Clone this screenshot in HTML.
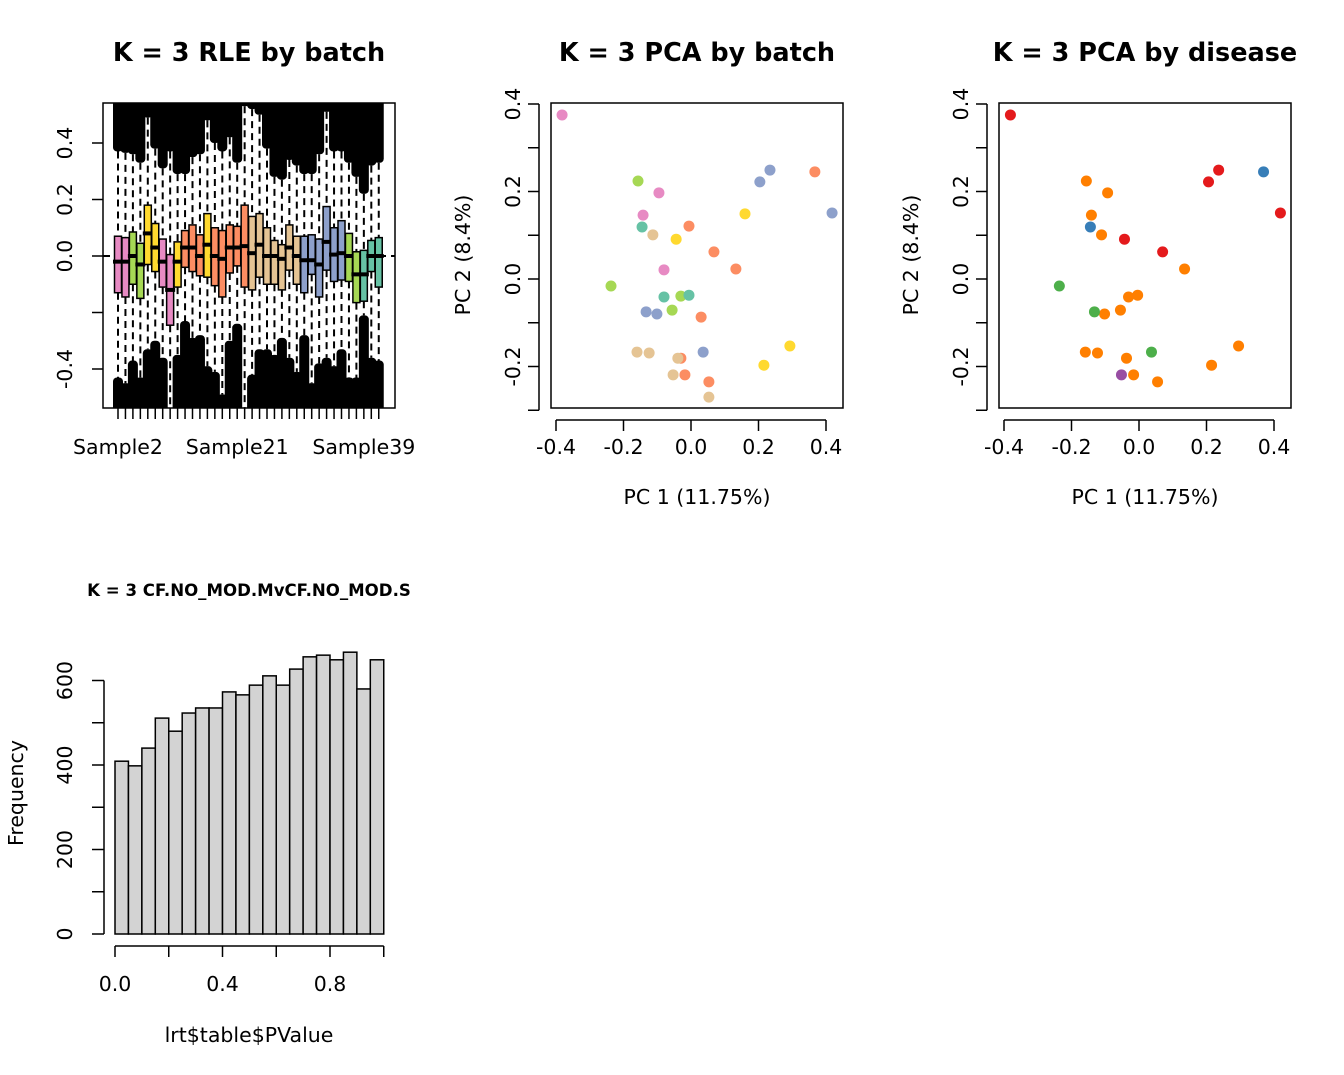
<!DOCTYPE html>
<html><head><meta charset="utf-8"><style>
html,body{margin:0;padding:0;background:#fff}
svg{display:block;font-family:"DejaVu Sans","Liberation Sans",sans-serif}
</style></head><body>
<svg id="c" width="1344" height="1075" viewBox="0 0 1344 1075">
<text x="249" y="61" text-anchor="middle" font-size="25.5" font-weight="bold">K = 3 RLE by batch</text>
<text x="697" y="61" text-anchor="middle" font-size="25.5" font-weight="bold">K = 3 PCA by batch</text>
<text x="1145" y="61" text-anchor="middle" font-size="25.5" font-weight="bold">K = 3 PCA by disease</text>
<text x="249" y="596" text-anchor="middle" font-size="16.6" font-weight="bold">K = 3 CF.NO_MOD.MvCF.NO_MOD.S</text>
<g id="g1"></g>
<g id="g2"></g>
<g id="g3"></g>
<g id="g4"></g>
</svg>
<script>
// ---- RLE data ----
const rleQ3=[.07,.065,.085,.045,.18,.115,.06,.005,.05,.09,.11,.075,.15,.1,.09,.11,.105,.18,.14,.15,.1,.055,.04,.11,.07,.07,.075,.06,.175,.1,.125,.08,.015,.02,.055,.065];
const rleQ1=[-.13,-.145,-.1,-.15,-.03,-.055,-.11,-.245,-.11,-.04,-.055,-.07,-.075,-.105,-.145,-.06,-.035,-.11,-.12,-.075,-.1,-.1,-.12,-.05,-.1,-.13,-.065,-.145,-.05,-.09,-.085,-.09,-.165,-.16,-.055,-.11];
const rleMed=[-.02,-.02,0,-.03,.08,.03,-.02,-.12,-.02,.03,.03,0,.04,0,-.01,.03,.03,.035,.01,.04,0,0,-.01,.03,0,-.015,-.015,-.03,.05,.005,.01,0,-.065,-.065,0,0];
const rleUpWhisk=[.37,.365,.36,.33,.49,.38,.31,.37,.29,.29,.35,.36,.48,.4,.37,.42,.33,.53,.52,.5,.38,.28,.27,.34,.32,.29,.29,.36,.51,.37,.37,.33,.28,.22,.32,.33];
const rleLoWhisk=[-.43,-.45,-.37,-.43,-.33,-.3,-.36,-.6,-.35,-.23,-.29,-.28,-.39,-.41,-.49,-.3,-.24,-.6,-.42,-.33,-.33,-.35,-.29,-.36,-.41,-.28,-.45,-.38,-.36,-.39,-.33,-.43,-.43,-.21,-.36,-.37];
const rleBatch=[0,0,1,1,2,2,0,0,2,3,3,3,2,3,3,3,3,3,4,4,4,4,4,4,4,5,5,5,5,5,5,1,1,6,6,6];
const rleTicks=[-0.4,-0.2,0,0.2,0.4];
const rleTickLabels=["-0.4","","0.0","0.2","0.4"];
const rleXLabels=["Sample2","Sample21","Sample39"];
const rleXLabelIdx=[0,16,33];
const batchColors=["#E78AC3","#A6D854","#FFD92F","#FC8D62","#E5C494","#8DA0CB","#66C2A5"];
// ---- PCA by batch ----
const pc1=[-.382,-.157,-.095,-.142,-.145,-.113,-.044,-.006,.068,-.080,.133,.160,.204,.234,.367,.418,-.237,-.080,-.030,-.006,-.056,-.133,-.101,.030,-.160,-.124,-.030,-.039,.036,.293,.216,-.053,-.018,.053,.053];
const pc2=[.375,.224,.197,.146,.119,.101,.091,.121,.062,.021,.023,.149,.222,.249,.245,.151,-.016,-.041,-.039,-.037,-.071,-.075,-.080,-.087,-.167,-.169,-.181,-.181,-.167,-.153,-.197,-.219,-.219,-.235,-.270];
const pcBatch=[0,1,0,0,6,4,2,3,3,0,3,2,5,5,3,5,1,6,1,6,1,5,5,3,4,4,3,4,5,2,2,4,3,3,4];
// ---- PCA by disease ----
const dx=[-.381,.206,.236,.419,.070,-.043,.369,-.144,-.156,-.093,-.141,-.111,.135,-.031,-.004,-.055,-.102,-.159,-.123,-.037,.295,.215,-.016,.055,-.236,-.132,.037,-.052];
const dy=[.375,.222,.249,.151,.062,.091,.245,.119,.224,.197,.146,.101,.023,-.041,-.037,-.071,-.080,-.167,-.169,-.181,-.153,-.197,-.219,-.235,-.016,-.075,-.167,-.219];
const dGroup=[0,0,0,0,0,0,1,1,4,4,4,4,4,4,4,4,4,4,4,4,4,4,4,4,2,2,2,3];
const diseaseColors=["#E41A1C","#377EB8","#4DAF4A","#984EA3","#FF7F00"];
const pcaXTicks=[-0.4,-0.2,0,0.2,0.4];
const pcaXTickLabels=["-0.4","-0.2","0.0","0.2","0.4"];
const pcaYTicks=[-0.3,-0.2,-0.1,0,0.1,0.2,0.3,0.4];
const pcaYTickLabels=["","-0.2","","0.0","","0.2","","0.4"];
// ---- Histogram ----
const histCounts=[409,398,440,511,480,523,535,535,573,566,589,611,589,627,656,660,649,667,580,649];
const histBinWidth=0.05;
const histYTicks=[0,100,200,300,400,500,600];
const histYLabels=["0","","200","","400","","600"];
const histXTicks=[0,0.2,0.4,0.6,0.8,1.0];
const histXLabels=["0.0","","0.4","","0.8",""];

const NS="http://www.w3.org/2000/svg";
function mk(p,tag,a,txt){const e=document.createElementNS(NS,tag);for(const k in a)e.setAttribute(k,a[k]);if(txt!==undefined)e.textContent=txt;p.appendChild(e);return e;}
const FS=20.5;

// ---- RLE ----
(function(){
const g=document.getElementById('g1');
const L=103,R=395,T=103,B=408;
const ys=v=>256-v*282.5;
const xs=i=>118+i*7.45;
const plotClip=mk(g,'clipPath',{id:'cp1'});mk(plotClip,'rect',{x:L,y:T,width:R-L,height:B-T});
const inner=mk(g,'g',{'clip-path':'url(#cp1)'});


mk(inner,'line',{x1:L,x2:R,y1:ys(0),y2:ys(0),stroke:'#000','stroke-width':2,'stroke-dasharray':'7,5'});
rleMed.forEach((m,i)=>{
 const x=xs(i);
 const top=mk(inner,'rect',{x:x-5,y:T-5,width:10,height:ys(rleUpWhisk[i])-T+5,fill:'#000',rx:4});
 
 
 const bot=mk(inner,'rect',{x:x-5,y:ys(rleLoWhisk[i]),width:10,height:B-ys(rleLoWhisk[i])+5,fill:'#000',rx:4});
 
 
});
rleMed.forEach((m,i)=>{
 const x=xs(i);
 mk(inner,'line',{x1:x,x2:x,y1:ys(rleUpWhisk[i]),y2:ys(rleQ3[i]),stroke:'#000','stroke-width':2,'stroke-dasharray':'7,5'});
 mk(inner,'line',{x1:x,x2:x,y1:ys(rleQ1[i]),y2:ys(rleLoWhisk[i]),stroke:'#000','stroke-width':2,'stroke-dasharray':'7,5'});
 const b=mk(inner,'rect',{x:x-3.5,y:ys(rleQ3[i]),width:7,height:ys(rleQ1[i])-ys(rleQ3[i]),fill:batchColors[rleBatch[i]],stroke:'#000','stroke-width':1.5});
 
 
 mk(inner,'line',{x1:x-5,x2:x+5,y1:ys(m),y2:ys(m),stroke:'#000','stroke-width':4});
});
mk(g,'rect',{x:L,y:T,width:R-L,height:B-T,fill:'none',stroke:'#000','stroke-width':1.5});
rleTicks.forEach((t,i)=>{const y=ys(t);mk(g,'line',{x1:L-11,x2:L,y1:y,y2:y,stroke:'#000','stroke-width':1.5});
 if(rleTickLabels[i]){const tx=mk(g,'text',{x:72,y:y,'font-size':FS,'text-anchor':'middle',transform:`rotate(-90 72 ${y})`},rleTickLabels[i]);
 }});
rleMed.forEach((m,i)=>mk(g,'line',{x1:xs(i),x2:xs(i),y1:B,y2:B+11,stroke:'#000','stroke-width':1.5}));
rleXLabels.forEach((s,k)=>{const tx=mk(g,'text',{x:xs(rleXLabelIdx[k]),y:454,'font-size':FS,'text-anchor':'middle'},s);
 });
})();

// ---- PCA ----
function pca(gid,x0,xsArr,ysArr,cols,pal,name){
const g=document.getElementById(gid);
const L=x0,R=x0+292,T=103,B=408;
const zeroX=x0+140;
const sx=v=>zeroX+v*337.5, sy=v=>279-v*437.5;
mk(g,'rect',{x:L,y:T,width:R-L,height:B-T,fill:'none',stroke:'#000','stroke-width':1.5});
mk(g,'line',{x1:sx(-0.4),x2:sx(0.4),y1:B+12,y2:B+12,stroke:'#000','stroke-width':1.5});
mk(g,'line',{x1:L-12,x2:L-12,y1:sy(-0.3),y2:sy(0.4),stroke:'#000','stroke-width':1.5});
pcaXTicks.forEach((t,i)=>{
 mk(g,'line',{x1:sx(t),x2:sx(t),y1:B+12,y2:B+23,stroke:'#000','stroke-width':1.5});
 const a=mk(g,'text',{x:sx(t),y:454,'font-size':FS,'text-anchor':'middle'},pcaXTickLabels[i]);
 
});
pcaYTicks.forEach((t,i)=>{
 mk(g,'line',{x1:L-23,x2:L-12,y1:sy(t),y2:sy(t),stroke:'#000','stroke-width':1.5});
 if(pcaYTickLabels[i]){const lx=L-31;
 const b=mk(g,'text',{x:lx,y:sy(t),'font-size':FS,'text-anchor':'middle',transform:`rotate(-90 ${lx} ${sy(t)})`},pcaYTickLabels[i]);
 }
});
const xl=mk(g,'text',{x:sx(0)+6,y:504,'font-size':FS,'text-anchor':'middle'},'PC 1 (11.75%)');

const yx=L-81,yy=255;
const yl=mk(g,'text',{x:yx,y:yy,'font-size':FS,'text-anchor':'middle',transform:`rotate(-90 ${yx} ${yy})`},'PC 2 (8.4%)');

xsArr.forEach((v,i)=>{const c=mk(g,'circle',{cx:sx(v),cy:sy(ysArr[i]),r:5.5,fill:pal[cols[i]]});
 });
}
pca('g2',551,pc1,pc2,pcBatch,batchColors,'batch-point');
pca('g3',999,dx,dy,dGroup,diseaseColors,'disease-point');

// ---- Histogram ----
(function(){
const g=document.getElementById('g4');
const sx=v=>115+v*268.75, sy=v=>934-v*0.4225;
histCounts.forEach((c,i)=>{const b=mk(g,'rect',{x:sx(i*histBinWidth),y:sy(c),width:sx(histBinWidth)-sx(0),height:sy(0)-sy(c),fill:'#d3d3d3',stroke:'#000','stroke-width':1.5});
 });
mk(g,'line',{x1:sx(0),x2:sx(1),y1:946,y2:946,stroke:'#000','stroke-width':1.5});
histXTicks.forEach((t,i)=>{mk(g,'line',{x1:sx(t),x2:sx(t),y1:946,y2:957,stroke:'#000','stroke-width':1.5});
 if(histXLabels[i]){const a=mk(g,'text',{x:sx(t),y:991,'font-size':FS,'text-anchor':'middle'},histXLabels[i]);
 }});
mk(g,'line',{x1:104,x2:104,y1:sy(0),y2:sy(600),stroke:'#000','stroke-width':1.5});
histYTicks.forEach((t,i)=>{mk(g,'line',{x1:92,x2:104,y1:sy(t),y2:sy(t),stroke:'#000','stroke-width':1.5});
 if(histYLabels[i]){const a=mk(g,'text',{x:72,y:sy(t),'font-size':FS,'text-anchor':'middle',transform:`rotate(-90 72 ${sy(t)})`},histYLabels[i]);
 }});
const xl=mk(g,'text',{x:249,y:1042,'font-size':FS,'text-anchor':'middle'},'lrt$table$PValue');

const yl=mk(g,'text',{x:23,y:793,'font-size':FS,'text-anchor':'middle',transform:'rotate(-90 23 793)'},'Frequency');

})();
</script>
</body></html>
